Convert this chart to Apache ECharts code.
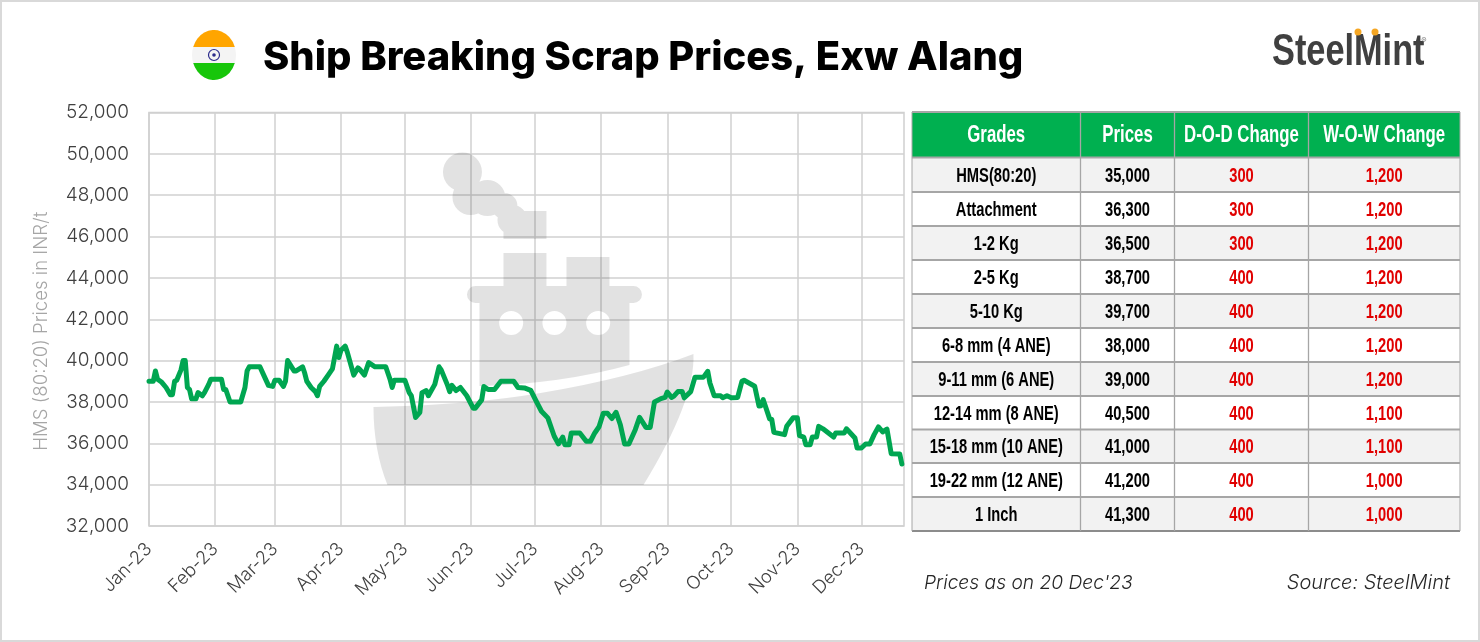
<!DOCTYPE html>
<html>
<head>
<meta charset="utf-8">
<title>Ship Breaking Scrap Prices, Exw Alang</title>
<script src="https://cdn.jsdelivr.net/npm/echarts@6/dist/echarts.min.js"></script>
<style>
html, body { margin: 0; padding: 0; background: #fff; }
#main { width: 1480px; height: 642px; }
</style>
</head>
<body>
<div id="main"></div>
<script>
// month gridlines and their labels
var monthStarts = ['01-01', '02-01', '03-01', '04-01', '05-01', '06-01',
    '07-01', '08-01', '09-01', '10-01', '11-01', '12-01'];
var monthLabels = ['Jan-23', 'Feb-23', 'Mar-23', 'Apr-23', 'May-23', 'Jun-23',
    'Jul-23', 'Aug-23', 'Sep-23', 'Oct-23', 'Nov-23', 'Dec-23'];

// HMS (80:20) series
var priceDates = [
    '01-01', '01-03', '01-04', '01-05', '01-07', '01-09', '01-11', '01-12', '01-13', '01-14', '01-16', '01-17', '01-18', '01-19', '01-20', '01-21', '01-23', '01-24', '01-26', '01-27', '01-29', '01-30',
    '02-04', '02-05', '02-06', '02-08', '02-13', '02-15', '02-16', '02-17', '02-22', '02-24', '02-26', '02-28',
    '03-01', '03-03', '03-05', '03-06', '03-07', '03-10', '03-11', '03-14', '03-15', '03-16', '03-18', '03-20', '03-21', '03-22', '03-24', '03-26', '03-28', '03-30', '03-31',
    '04-01', '04-03', '04-04', '04-07', '04-09', '04-10', '04-12', '04-14', '04-17', '04-22', '04-24', '04-25', '04-26',
    '05-01', '05-03', '05-04', '05-06', '05-08', '05-09', '05-11', '05-12', '05-15', '05-17', '05-18', '05-21', '05-22', '05-23', '05-25', '05-27', '05-30',
    '06-02', '06-03', '06-06', '06-07', '06-09', '06-12', '06-15', '06-21', '06-23', '06-26', '06-29',
    '07-01', '07-04', '07-07', '07-10', '07-12', '07-14', '07-15', '07-17', '07-18', '07-22', '07-25', '07-27', '07-29', '07-31',
    '08-02', '08-04', '08-06', '08-08', '08-10', '08-12', '08-14', '08-17', '08-19', '08-22', '08-24', '08-26', '08-29', '08-31',
    '09-01', '09-03', '09-04', '09-06', '09-08', '09-09', '09-12', '09-14', '09-18', '09-20', '09-21', '09-23', '09-26', '09-27', '09-29',
    '10-01', '10-04', '10-06', '10-07', '10-12', '10-14', '10-15', '10-16', '10-19', '10-20', '10-21', '10-26', '10-27', '10-30',
    '11-01', '11-02', '11-04', '11-05', '11-07', '11-08', '11-10', '11-11', '11-13', '11-18', '11-19', '11-23', '11-24', '11-28', '11-29',
    '12-01', '12-03', '12-05', '12-07', '12-09', '12-11', '12-13', '12-15', '12-19', '12-20'
];
var priceValues = [
    39000, 39000, 39500, 39100, 38950, 38700, 38350, 38350, 39000, 39050, 39550, 40000, 40000, 38700, 38600, 38150, 38150, 38450, 38300, 38450, 38850, 39100,
    39100, 38600, 38600, 38000, 38000, 38700, 39500, 39700, 39700, 39250, 38800, 38750,
    39050, 39050, 38750, 39000, 40000, 39500, 39500, 39700, 39400, 39000, 38700, 38500, 38300, 38750, 39000, 39300, 39600, 40700, 40150,
    40500, 40700, 40400, 39300, 39650, 39550, 39300, 39900, 39700, 39700, 39100, 38700, 39050,
    39050, 38450, 38300, 37250, 37500, 38450, 38550, 38300, 38850, 39700, 39550, 38800, 38500, 38800, 38550, 38700, 38300,
    37700, 37700, 38100, 38750, 38600, 38600, 39000, 39000, 38700, 38680, 38560,
    38150, 37550, 37230, 36340, 35970, 36300, 35930, 35930, 36500, 36500, 36100, 36100, 36500, 36800,
    37450, 37450, 37200, 37500, 36900, 35970, 35970, 36660, 37260, 36770, 36770, 38000, 38160, 38220,
    38480, 38220, 38270, 38500, 38500, 38200, 38500, 39200, 39200, 39480, 38920, 38300, 38300, 38200, 38300,
    38200, 38220, 39000, 39050, 38760, 37800, 37820, 38110, 37180, 37150, 36530, 36420, 36820, 37230,
    37230, 36370, 36300, 35930, 35930, 36300, 36300, 36820, 36700, 36300, 36500, 36500, 36700, 36260, 35770,
    35770, 35970, 35970, 36420, 36790, 36550, 36690, 35500, 35480, 35000
];

// price table
var tableHeaders = ['Grades', 'Prices', 'D-O-D Change', 'W-O-W Change'];
var grades = ['HMS(80:20)', 'Attachment', '1-2 Kg', '2-5 Kg', '5-10 Kg', '6-8 mm (4 ANE)', '9-11 mm (6 ANE)',
    '12-14 mm (8 ANE)', '15-18 mm (10 ANE)', '19-22 mm (12 ANE)', '1 Inch'];
var gradePrices = ['35,000', '36,300', '36,500', '38,700', '39,700', '38,000', '39,000', '40,500', '41,000', '41,200', '41,300'];
var dodChange = ['300', '300', '300', '400', '400', '400', '400', '400', '400', '400', '400'];
var wowChange = ['1,200', '1,200', '1,200', '1,200', '1,200', '1,200', '1,200', '1,100', '1,100', '1,000', '1,000'];

// no condensed font is installed, so these texts get squeezed with scaleX
var NARROW = '"Liberation Sans", sans-serif';
var LIGHT = 'Inter, "Noto Sans", sans-serif';

// x axis runs in days since 1 Jan 2023
function dayOfYear(md) {
    var p = md.split('-');
    return (Date.UTC(2023, +p[0] - 1, +p[1]) - Date.UTC(2023, 0, 1)) / 86400000;
}
var monthTicks = monthStarts.map(dayOfYear);
var seriesData = priceDates.map(function (d, i) {
    return [dayOfYear(d), priceValues[i]];
});

// table drawn as graphic elements, built from the arrays above
var colX = [912, 1080.5, 1174.5, 1308.5, 1460];
var rowY = [112, 157.5, 192, 226, 260, 294, 328, 362, 396, 429.5, 463, 497, 531];

function cellText(text, col, row, color, size, weight) {
    return {
        type: 'text',
        z: 5,
        x: (colX[col] + colX[col + 1]) / 2,
        y: (rowY[row] + rowY[row + 1]) / 2 + 1,
        scaleX: 0.7,
        style: {
            text: text,
            x: 0,
            y: 0,
            fill: color,
            fontFamily: NARROW,
            fontSize: size,
            fontWeight: weight,
            textAlign: 'center',
            textVerticalAlign: 'middle'
        }
    };
}

function buildTable() {
    var els = [];
    for (var r = 0; r < rowY.length - 1; r++) {
        els.push({
            type: 'rect',
            z: 4,
            shape: { x: colX[0], y: rowY[r], width: colX[4] - colX[0], height: rowY[r + 1] - rowY[r] },
            style: { fill: r === 0 ? '#00b050' : (r % 2 === 1 ? '#f2f2f2' : '#ffffff') }
        });
    }
    rowY.forEach(function (y, i) {
        els.push({
            type: 'line',
            z: 4,
            shape: { x1: colX[0], y1: y, x2: colX[4], y2: y },
            style: { stroke: i === rowY.length - 1 ? '#8c8c8c' : '#a6a6a6', lineWidth: 2 }
        });
    });
    colX.forEach(function (x, i) {
        els.push({
            type: 'line',
            z: 4,
            shape: { x1: x, y1: rowY[0], x2: x, y2: rowY[rowY.length - 1] },
            style: { stroke: '#a6a6a6', lineWidth: i === 0 || i === 4 ? 1 : 1.3 }
        });
    });
    tableHeaders.forEach(function (h, c) {
        els.push(cellText(h, c, 0, '#ffffff', 24, 'bold'));
    });
    grades.forEach(function (g, i) {
        els.push(cellText(g, 0, i + 1, '#000000', 21, 'bold'));
        els.push(cellText(gradePrices[i], 1, i + 1, '#000000', 21, 'bold'));
        els.push(cellText(dodChange[i], 2, i + 1, '#e00000', 21, 'bold'));
        els.push(cellText(wowChange[i], 3, i + 1, '#e00000', 21, 'bold'));
    });
    return els;
}

function circle(cx, cy, r, sweep) {
    return 'M' + (cx - r) + ' ' + cy + 'A' + r + ' ' + r + ' 0 1 ' + sweep + ' ' + (cx + r) + ' ' + cy +
        'A' + r + ' ' + r + ' 0 1 ' + sweep + ' ' + (cx - r) + ' ' + cy + 'Z';
}

// ship watermark, one path so the overlaps do not darken. it sits over the gridlines
var shipPath = circle(462, 172, 19.5, 1) + circle(470, 197, 18, 1) + circle(487, 198, 18, 1) + circle(504, 206, 13, 1) + circle(512, 220, 15, 1) +
    'M503 211L546 211L546 239L503 239Z' +
    'M503 253L546 253L546 287L503 287Z' +
    'M566 257L609 257L609 287L566 287Z' +
    'M475 286L633 286A8.5 8.5 0 0 1 633 303L475 303A8.5 8.5 0 0 1 475 286Z' +
    'M479 300L629 300L629 365Q560 384 479 386Z' +
    circle(510.7, 323, 12, 0) + circle(554, 323, 12, 0) + circle(597.7, 323, 12, 0) +
    'M373 407Q470 405 540 393Q630 378 693 354Q695 400 643 485L387 485Q373 450 373 407Z';

// decoration paths go through a custom series because graphic has no path type
var decorPaths = [
    { d: shipPath, x: 373, y: 152.5, width: 321, height: 332.5, fill: 'rgba(0,0,0,0.115)' },
    { d: 'M193.2 47A22 25 0 0 1 234.8 47Z', x: 193.2, y: 30, width: 41.6, height: 17, fill: '#ffa500' },
    { d: 'M193.2 63A22 25 0 0 0 234.8 63Z', x: 193.2, y: 63, width: 41.6, height: 17, fill: '#17c60a' }
];

var graphics = [
    // outer frame
    { type: 'rect', z: 0, shape: { x: 1, y: 1, width: 1478, height: 640 }, style: { fill: 'none', stroke: '#d9d9d9', lineWidth: 2 } },
    // flag
    { type: 'circle', z: 0, scaleX: 22 / 25, originX: 214, originY: 55, shape: { cx: 214, cy: 55, r: 25 }, style: { fill: '#f4f4f4' } },
    { type: 'circle', z: 3, shape: { cx: 214, cy: 55, r: 5.5 }, style: { fill: 'none', stroke: '#2b2b8c', lineWidth: 1.2 } },
    { type: 'circle', z: 3, shape: { cx: 214, cy: 55, r: 1.8 }, style: { fill: '#2b2b8c' } },
    // logo
    {
        type: 'text', z: 3, x: 1272, y: 53, scaleX: 0.78,
        style: { text: 'SteelMint', x: 0, y: 0, fill: '#404040', fontFamily: NARROW, fontWeight: 'bold', fontSize: 44, textAlign: 'left', textVerticalAlign: 'middle' }
    },
    { type: 'circle', z: 3, shape: { cx: 1358, cy: 32, r: 3.5 }, style: { fill: '#f5a623' } },
    { type: 'circle', z: 3, shape: { cx: 1375, cy: 32, r: 3.5 }, style: { fill: '#f5a623' } },
    {
        type: 'text', z: 3,
        style: { text: '®', x: 1424, y: 41, fill: '#808080', fontFamily: LIGHT, fontSize: 8, textAlign: 'center', textVerticalAlign: 'middle' }
    },
    // footnotes
    {
        type: 'text', z: 3,
        style: { text: "Prices as on 20 Dec'23", x: 924, y: 583, fill: '#262626', fontFamily: LIGHT, fontStyle: 'italic', fontWeight: 300, fontSize: 19.2, textAlign: 'left', textVerticalAlign: 'middle' }
    },
    {
        type: 'text', z: 3,
        style: { text: 'Source: SteelMint', x: 1450, y: 583, fill: '#262626', fontFamily: LIGHT, fontStyle: 'italic', fontWeight: 300, fontSize: 20, textAlign: 'right', textVerticalAlign: 'middle' }
    }
].concat(buildTable());

var myChart = echarts.init(document.getElementById('main'));

var option = {
    backgroundColor: '#ffffff',
    animation: false,
    title: {
        text: 'Ship Breaking Scrap Prices, Exw Alang',
        left: 263,
        top: 38,
        padding: 0,
        textStyle: { color: '#000000', fontFamily: 'Inter, sans-serif', fontWeight: 800, fontSize: 39.9 }
    },
    grid: {
        left: 149,
        top: 112.5,
        width: 755,
        height: 413.5,
        show: true,
        backgroundColor: 'transparent',
        borderColor: '#d0d0d0',
        borderWidth: 1.5,
        containLabel: false
    },
    xAxis: {
        type: 'value',
        min: 0,
        max: 354,
        axisLine: { show: false },
        axisTick: { show: false, customValues: monthTicks },
        splitLine: { show: true, lineStyle: { color: '#d0d0d0', width: 1.5 } },
        axisLabel: {
            customValues: monthTicks,
            rotate: 45,
            margin: 20,
            color: '#404040',
            fontFamily: LIGHT,
            fontWeight: 300,
            fontSize: 18.3,
            hideOverlap: false,
            formatter: function (value) {
                return monthLabels[monthTicks.indexOf(value)];
            }
        }
    },
    yAxis: {
        type: 'value',
        min: 32000,
        max: 52000,
        interval: 2000,
        name: 'HMS (80:20) Prices in INR/t',
        nameLocation: 'middle',
        nameGap: 98,
        nameRotate: 90,
        nameTextStyle: { color: '#a6a6a6', fontFamily: LIGHT, fontWeight: 300, fontSize: 18.6, padding: [0, 24, 0, 0] },
        axisLine: { show: false },
        axisTick: { show: false },
        splitLine: { show: true, lineStyle: { color: '#d0d0d0', width: 1.5 } },
        axisLabel: {
            margin: 20,
            padding: [2, 0, 0, 0],
            color: '#404040',
            fontFamily: LIGHT,
            fontWeight: 300,
            fontSize: 19,
            formatter: function (value) {
                return value.toLocaleString('en-US');
            }
        }
    },
    graphic: graphics,
    series: [{
        type: 'custom',
        coordinateSystem: 'none',
        silent: true,
        z: 1,
        data: decorPaths.map(function (p, i) { return i; }),
        renderItem: function (params) {
            var p = decorPaths[params.dataIndex];
            return {
                type: 'path',
                shape: { pathData: p.d, x: p.x, y: p.y, width: p.width, height: p.height },
                style: { fill: p.fill }
            };
        }
    }, {
        type: 'line',
        name: 'HMS (80:20)',
        data: seriesData,
        symbol: 'none',
        z: 3,
        lineStyle: { color: '#00a651', width: 5, cap: 'round', join: 'round' }
    }]
};

myChart.setOption(option);
</script>
</body>
</html>
